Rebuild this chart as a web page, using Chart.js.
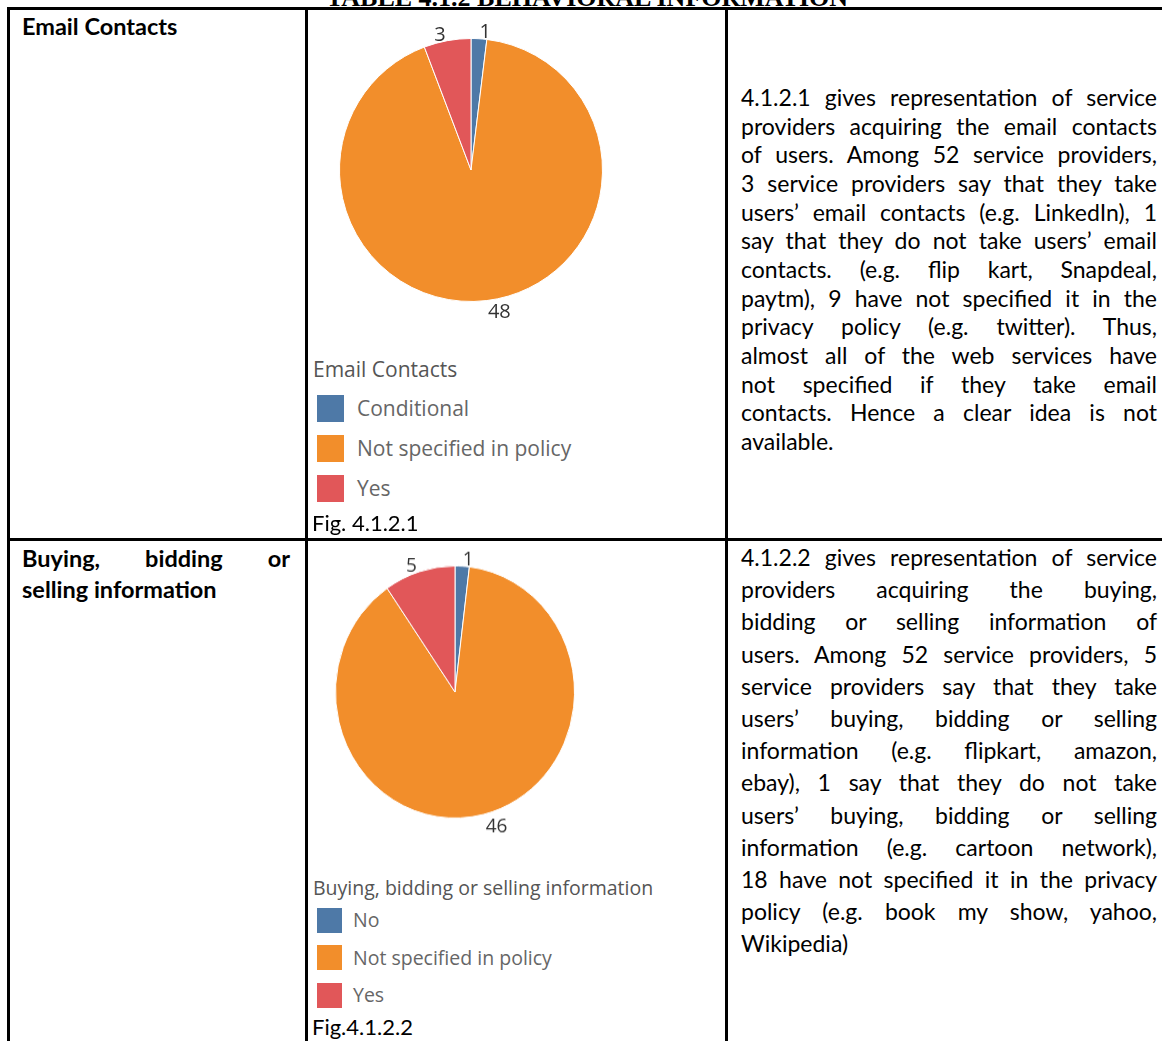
<!DOCTYPE html>
<html>
<head>
<meta charset="utf-8">
<script src="https://cdn.jsdelivr.net/npm/chart.js@4.4.1/dist/chart.umd.min.js"></script>
<style>
  html, body { margin: 0; padding: 0; background: #fff; }
  body { width: 1162px; height: 1041px; position: relative; overflow: hidden; font-family: Lato, "Open Sans", sans-serif; color: #000; }
  .rule { position: absolute; background: #000; }
  .abs { position: absolute; white-space: nowrap; }
  .line { position: absolute; left: 741px; width: 416px; font-size: 23px; line-height: 28px; text-align: justify; text-align-last: justify; white-space: normal; }
  .line.last { text-align-last: left; }
  .legend { position: absolute; left: 313px; font-family: "Open Sans", "Noto Sans", sans-serif; color: #666; }
  .legend .ttl { color: #555; }
  .legend .item { position: absolute; left: 0; white-space: nowrap; }
  .legend .sw { position: absolute; left: 4px; }
  .fig { position: absolute; left: 312px; font-size: 22px; }
  canvas { position: absolute; }
</style>
</head>
<body>

<div class="abs" style="left:0;width:1174px;top:-15px;text-align:center;font-family:'Liberation Serif',serif;font-weight:bold;font-size:26px;line-height:26px;">TABLE 4.1.2 BEHAVIORAL INFORMATION</div>

<!-- table rules -->
<div class="rule" style="left:7px;top:7px;width:1155px;height:3px"></div>
<div class="rule" style="left:7px;top:538px;width:1155px;height:3px"></div>
<div class="rule" style="left:7px;top:7px;width:3px;height:1040px"></div>
<div class="rule" style="left:305px;top:7px;width:3px;height:1040px"></div>
<div class="rule" style="left:725px;top:7px;width:3px;height:1040px"></div>

<!-- left column -->
<div class="abs" style="left:22px;top:12px;font-size:23.5px;font-weight:bold;line-height:28px">Email Contacts</div>
<div class="abs" style="left:22px;top:543px;width:268px;font-size:23.5px;font-weight:bold;line-height:31px;white-space:normal;text-align:justify;text-align-last:justify">Buying, bidding or</div>
<div class="abs" style="left:22px;top:574px;font-size:23.5px;font-weight:bold;line-height:31px">selling information</div>

<!-- pies -->
<canvas id="pie1" width="320" height="320" style="left:311px;top:10px;width:320px;height:320px"></canvas>
<canvas id="pie2" width="300" height="300" style="left:305px;top:542px;width:300px;height:300px;transform:scaleY(1.055)"></canvas>

<div id="legend1" class="legend"></div>
<div id="legend2" class="legend"></div>

<div class="fig" style="top:509px;line-height:28px">Fig. 4.1.2.1</div>
<div class="fig" style="top:1013px;line-height:28px">Fig.4.1.2.2</div>

<div id="text1"></div>
<div id="text2"></div>

<script>
// ==============================
// Data
// ==============================
const emailLabels = ["Conditional", "Not specified in policy", "Yes"];
const emailCounts = [1, 48, 3];
const buyingLabels = ["No", "Not specified in policy", "Yes"];
const buyingCounts = [1, 46, 5];
const sliceColors = ["#4e79a7", "#f28e2b", "#e15759"];

const text1 = [
  "4.1.2.1 gives representation of service",
  "providers acquiring the email contacts",
  "of users. Among 52 service providers,",
  "3 service providers say that they take",
  "users\u2019 email contacts (e.g. LinkedIn), 1",
  "say that they do not take users\u2019 email",
  "contacts. (e.g. flip kart, Snapdeal,",
  "paytm), 9 have not specified it in the",
  "privacy policy (e.g. twitter). Thus,",
  "almost all of the web services have",
  "not specified if they take email",
  "contacts. Hence a clear idea is not",
  "available."
];
const text2 = [
  "4.1.2.2 gives representation of service",
  "providers acquiring the buying,",
  "bidding or selling information of",
  "users. Among 52 service providers, 5",
  "service providers say that they take",
  "users\u2019 buying, bidding or selling",
  "information (e.g. flipkart, amazon,",
  "ebay), 1 say that they do not take",
  "users\u2019 buying, bidding or selling",
  "information (e.g. cartoon network),",
  "18 have not specified it in the privacy",
  "policy (e.g. book my show, yahoo,",
  "Wikipedia)"
];

// ==============================
// Paragraphs (one div per line so breaks match)
// ==============================
function writeLines(el, lines, firstMid, step) {
  lines.forEach((t, i) => {
    const d = document.createElement("div");
    d.className = "line" + (i === lines.length - 1 ? " last" : "");
    d.style.top = (firstMid + step * i - 14) + "px";
    d.textContent = t;
    el.appendChild(d);
  });
}
writeLines(document.getElementById("text1"), text1, 97, 28.65);
writeLines(document.getElementById("text2"), text2, 557, 32.2);

// ==============================
// Legends
// ==============================
function buildLegend(el, title, labels, o) {
  el.style.top = o.top + "px";
  el.style.fontSize = o.font + "px";
  el.innerHTML = `<div class="ttl abs" style="top:0;line-height:${o.font + 6}px">${title}</div>`;
  labels.forEach((l, i) => {
    const y = o.first + o.step * i;
    el.innerHTML += `
      <div class="sw" style="top:${y - o.sw / 2}px;width:${o.sw}px;height:${o.sw}px;background:${sliceColors[i]}"></div>
      <div class="item" style="left:${o.textX}px;top:${y - (o.font + 6) / 2}px;line-height:${o.font + 6}px">${l}</div>`;
  });
}
buildLegend(document.getElementById("legend1"), "Email Contacts", emailLabels,
  { top: 356, font: 21, first: 52, step: 40, sw: 27, textX: 44 });
buildLegend(document.getElementById("legend2"), "Buying, bidding or selling information", buyingLabels,
  { top: 875, font: 19.5, first: 45, step: 37.5, sw: 25, textX: 40 });

// ==============================
// Pies
// ==============================
const outsideLabels = {
  id: "outsideLabels",
  afterDatasetsDraw(chart, args, opts) {
    const ctx = chart.ctx;
    const meta = chart.getDatasetMeta(0);
    const vals = chart.data.datasets[0].data;
    ctx.save();
    ctx.font = opts.font;
    ctx.fillStyle = "#333";
    ctx.textBaseline = "middle";
    meta.data.forEach((arc, i) => {
      const mid = (arc.startAngle + arc.endAngle) / 2;
      const r = arc.outerRadius + 9;
      const x = arc.x + Math.cos(mid) * r;
      const y = arc.y + Math.sin(mid) * r;
      ctx.textAlign = Math.cos(mid) >= 0 ? "left" : "right";
      ctx.fillText(String(vals[i]), x, y + 3);
    });
    ctx.restore();
  }
};

function makePie(id, labels, counts, pad, font) {
  return new Chart(document.getElementById(id), {
    type: "pie",
    data: {
      labels: labels,
      datasets: [{
        data: counts,
        backgroundColor: sliceColors,
        borderColor: "#ffffff",
        borderWidth: 1
      }]
    },
    options: {
      responsive: false,
      animation: false,
      layout: { padding: pad },
      plugins: {
        legend: { display: false },
        tooltip: { enabled: false },
        outsideLabels: { font: font }
      }
    },
    plugins: [outsideLabels]
  });
}

makePie("pie1", emailLabels, emailCounts, 28, "20px 'Open Sans', sans-serif");
makePie("pie2", buyingLabels, buyingCounts, 30, "19px 'Open Sans', sans-serif");
</script>
</body>
</html>
